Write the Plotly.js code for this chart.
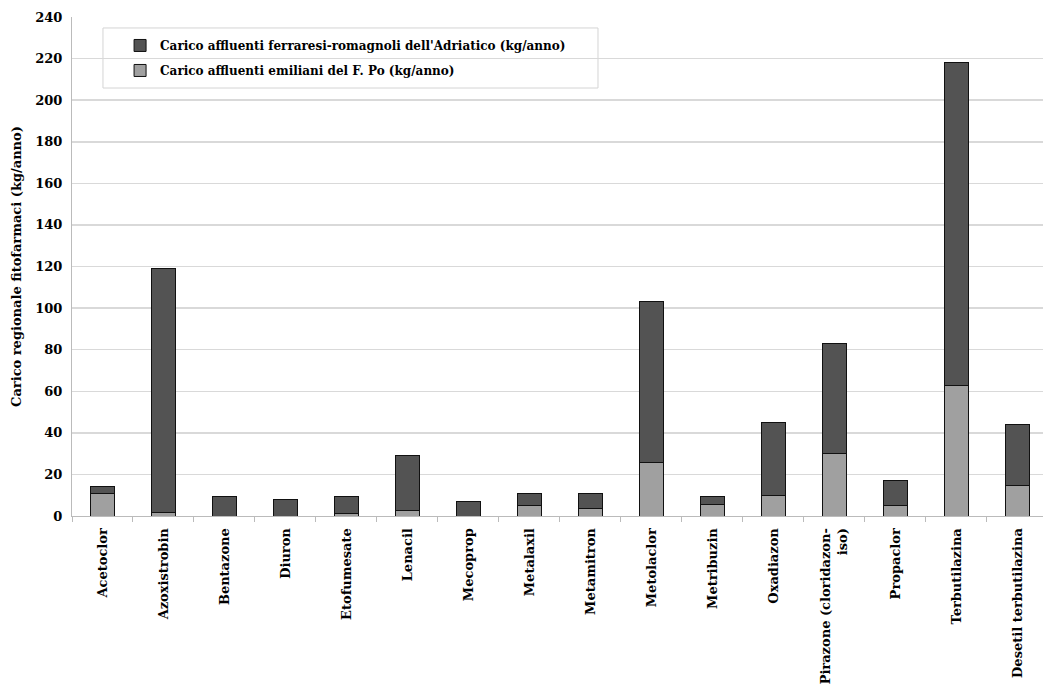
<!DOCTYPE html>
<html>
<head>
<meta charset="utf-8">
<script src="https://cdn.plot.ly/plotly-3.0.1.min.js"></script>
<style>html,body{margin:0;padding:0;background:#fff;}#chart{width:1043px;height:694px;}</style>
</head>
<body>
<div id="chart"></div>
<script>
const categories = ["Acetoclor","Azoxistrobin","Bentazone","Diuron","Etofumesate","Lenacil","Mecoprop","Metalaxil","Metamitron","Metolaclor","Metribuzin","Oxadiazon","Pirazone (cloridazon-<br>iso)","Propaclor","Terbutilazina","Desetil terbutilazina"];
const caricoPo = [11, 1.5, 0, 0, 1, 2.5, 0, 5, 3.5, 25.5, 5.5, 10, 30, 5, 63, 14.5];
const caricoAdriatico = [3, 117.5, 9.5, 8, 8.5, 26.5, 7, 6, 7.5, 77.5, 4, 35, 53, 12, 155, 29.5];

const serif = "DejaVu Serif, serif";
const traces = [
  {type:'bar', name:"Carico affluenti emiliani del F. Po (kg/anno)", x:categories, y:caricoPo,
   legendgroup:'b', legendrank:2, marker:{color:'#a0a0a0', line:{color:'#111', width:1}}},
  {type:'bar', name:"Carico affluenti ferraresi-romagnoli dell'Adriatico (kg/anno)", x:categories, y:caricoAdriatico,
   legendgroup:'a', legendrank:1, marker:{color:'#535353', line:{color:'#111', width:1}}}
];
const layout = {
  width:1043, height:694,
  margin:{l:72, r:0, t:17, b:178},
  barmode:'stack', bargap:0.6,
  paper_bgcolor:'#fff', plot_bgcolor:'#fff',
  font:{family:serif, size:13, color:'#000', weight:'bold'},
  showlegend:true,
  legend:{x:0.0495, y:0.972, xanchor:'left', yanchor:'top', traceorder:'grouped',
    borderwidth:0, bgcolor:'rgba(0,0,0,0)',
    font:{family:serif, size:12, weight:'bold'}, itemwidth:30, tracegroupgap:6},
  shapes:[{type:'rect', xref:'paper', yref:'paper', x0:0.0319, x1:0.5417, y0:0.8577, y1:0.978,
    line:{color:'#d4d4d4', width:1}, fillcolor:'#fff', layer:'below'}],
  xaxis:{type:'category', range:[-0.5, 15.42], tickangle:-90, ticks:'outside', tickson:'boundaries',
    ticklen:5, tickcolor:'#bbb', showline:true, linecolor:'#bbb', linewidth:1, ticklabelstandoff:6,
    tickfont:{family:serif, size:13, weight:'bold'}, showgrid:false},
  yaxis:{range:[0,240], dtick:20, showgrid:true, gridcolor:'#d9d9d9', gridwidth:1.5,
    showline:true, linecolor:'#bbb', ticks:'', zeroline:false, ticklabelstandoff:6,
    tickfont:{family:serif, size:13, weight:'bold'},
    title:{text:'Carico regionale fitofarmaci (kg/anno)', font:{family:serif, size:13, weight:'bold'}, standoff:10}}
};
Plotly.newPlot('chart', traces, layout, {displayModeBar:false, staticPlot:true});
</script>
</body>
</html>
